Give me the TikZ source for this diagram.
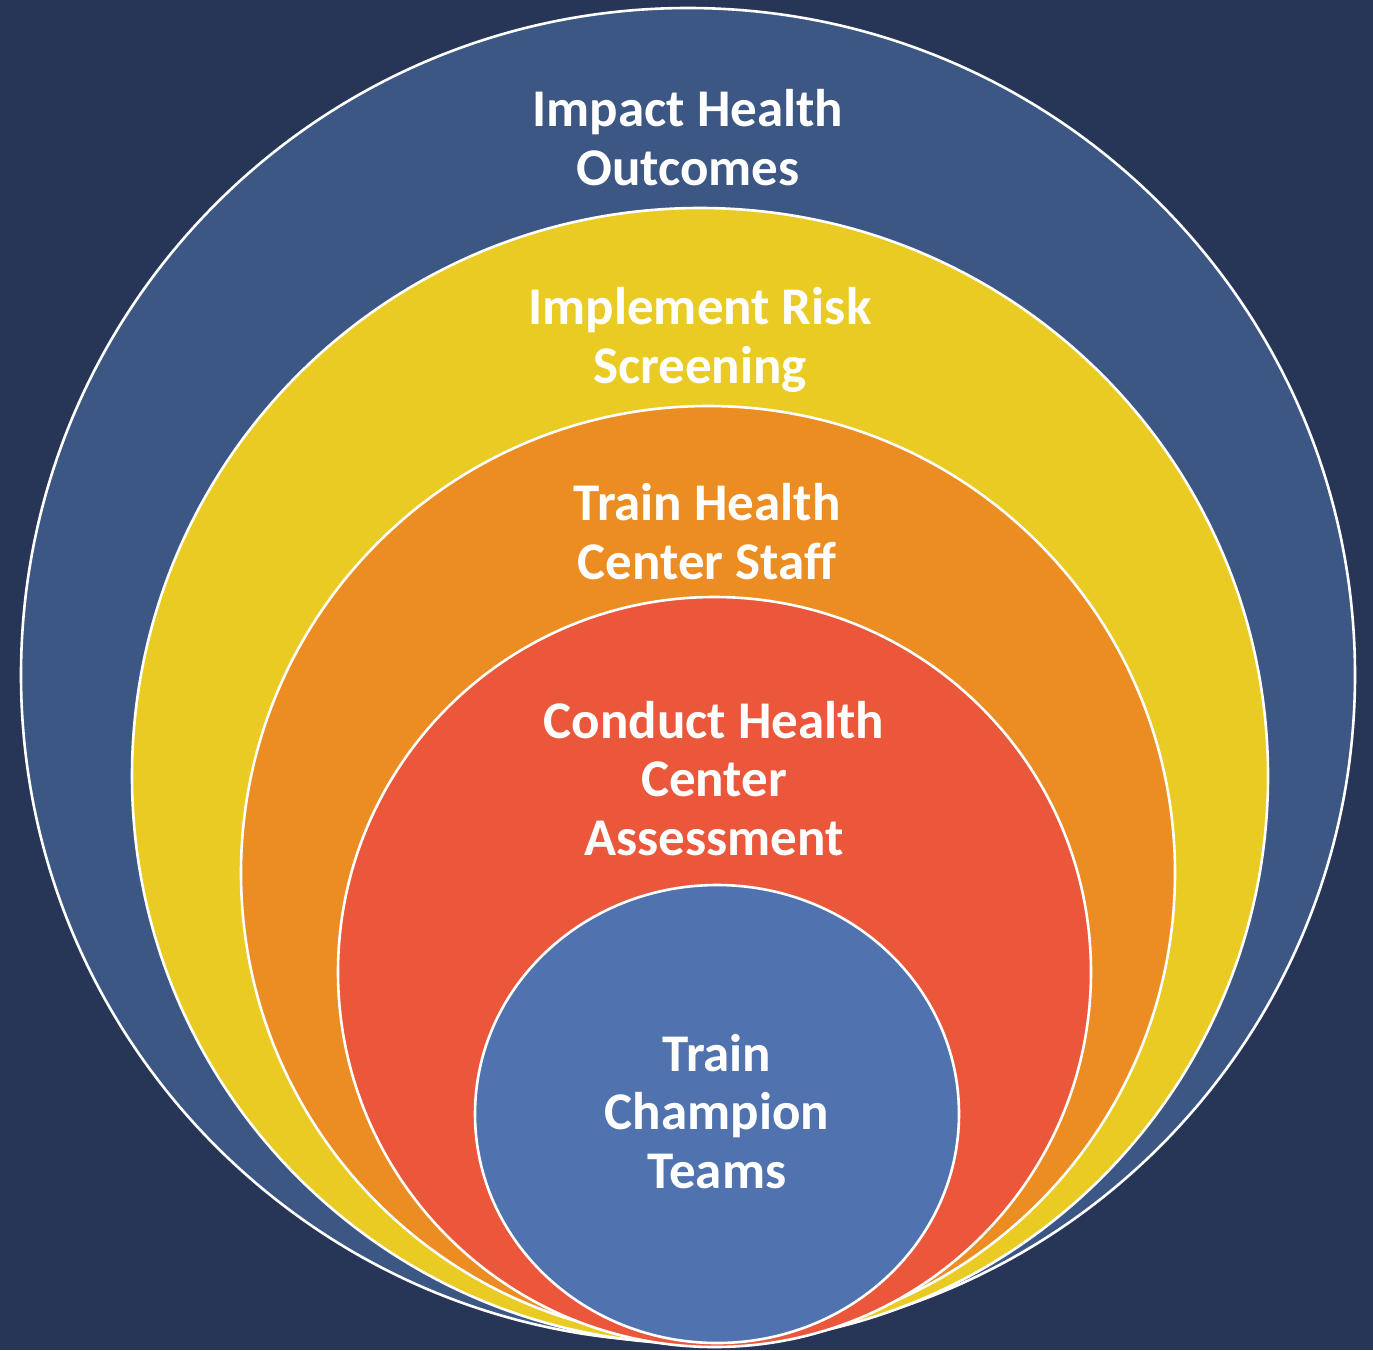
\documentclass[tikz,border=0pt]{standalone}
\usepackage{fontspec}
\setmainfont{Carlito}
\definecolor{bgnavy}{RGB}{39,54,86}
\definecolor{ringblue}{RGB}{60,87,132}
\definecolor{ringyellow}{RGB}{233,203,35}
\definecolor{ringorange}{RGB}{235,141,35}
\definecolor{ringred}{RGB}{234,87,58}
\definecolor{coreblue}{RGB}{80,115,175}
\begin{document}
\begin{tikzpicture}[x=1pt,y=-1pt,
  ring/.style={draw=white,line width=2.6pt},
  label/.style={text=white,font=\fontsize{53}{58.5}\selectfont\bfseries,align=center,inner sep=0pt,anchor=base}]
\fill[bgnavy] (0,0) rectangle (1373,1350);
\useasboundingbox (0,0) rectangle (1373,1350);
\filldraw[ring,fill=ringblue] (688,675) ellipse [x radius=667,y radius=667];
\filldraw[ring,fill=ringyellow] (700,776) ellipse [x radius=568,y radius=568];
\filldraw[ring,fill=ringorange] (708,873) ellipse [x radius=467,y radius=467];
\filldraw[ring,fill=ringred] (714.5,972) ellipse [x radius=376.5,y radius=375];
\filldraw[ring,fill=coreblue] (717,1114) ellipse [x radius=242,y radius=229];
\node[label] (l1) at (688,185) {Impact Health\\Outcomes};
\node[label] (l2) at (700,383) {Implement Risk\\Screening};
\node[label] (l3) at (707,579) {Train Health\\Center Staff};
\node[label] (l4) at (714,855) {Conduct Health\\Center\\Assessment};
\node[label] (l5) at (717,1188) {Train\\Champion\\Teams};
\end{tikzpicture}
\end{document}
